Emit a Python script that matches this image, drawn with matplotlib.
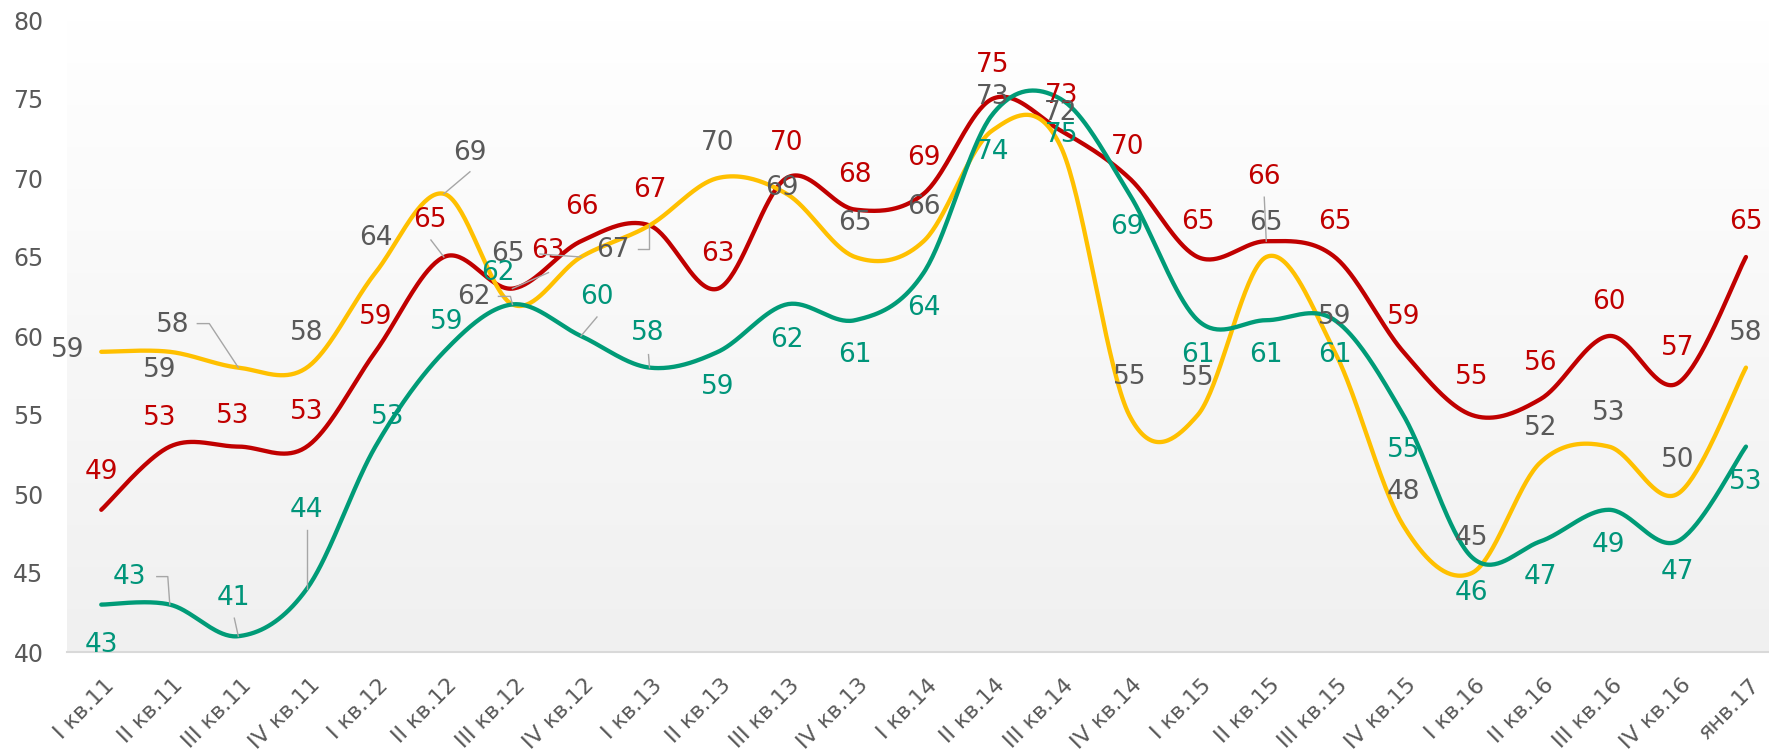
import numpy as np
import matplotlib
matplotlib.use('Agg')
import matplotlib.pyplot as plt
from matplotlib.lines import Line2D
from matplotlib.transforms import IdentityTransform

plt.rcParams['font.family'] = ['DejaVu Sans']

categories = ['I кв.11', 'II кв.11', 'III кв.11', 'IV кв.11',
              'I кв.12', 'II кв.12', 'III кв.12', 'IV кв.12',
              'I кв.13', 'II кв.13', 'III кв.13', 'IV кв.13',
              'I кв.14', 'II кв.14', 'III кв.14', 'IV кв.14',
              'I кв.15', 'II кв.15', 'III кв.15', 'IV кв.15',
              'I кв.16', 'II кв.16', 'III кв.16', 'IV кв.16', 'янв.17']
red_values = [49, 53, 53, 53, 59, 65, 63, 66, 67, 63, 70, 68, 69, 75, 73, 70, 65, 66, 65, 59, 55, 56, 60, 57, 65]
yellow_values = [59, 59, 58, 58, 64, 69, 62, 65, 67, 70, 69, 65, 66, 73, 72, 55, 55, 65, 59, 48, 45, 52, 53, 50, 58]
green_values = [43, 43, 41, 44, 53, 59, 62, 60, 58, 59, 62, 61, 64, 74, 75, 69, 61, 61, 61, 55, 46, 47, 49, 47, 53]

# label placement (pixel offsets from the point, y pointing down)
UP = (0, -35)
DN = (0, 35)
red_offsets = [(0, -38), (-10, -29), (-6, -31), UP, UP, (-14, -37), (35, -38), (1, -34), UP, UP,
               UP, UP, (0, -36), (0, -34), (1, -35), (-2, -31), UP, (-2, -64), UP, UP,
               (0, -38), (0, -36), (0, -34), UP, UP]
yellow_offsets = [(-34, -2), (-10, 18), (-66, -43), UP, UP, (26, -41), (-39, -7), (-73, -3), (-37, 25), UP,
                  (-5, -6), (0, -34), (0, -34), (0, -34), (0, -33), (0, -38), (0, -37), (0, -34), UP, (0, -34),
                  UP, (0, -34), (0, -34), (0, -34), UP]
green_offsets = [(0, 40), (-40, -28), (-5, -38), (0, -79), (12, -30), (3, -30), (-15, -31), (16, -39), (-2, -35), DN,
                 (0, 36), DN, DN, (0, 37), (1, 36), (-2, 33), DN, DN, DN, DN,
                 (0, 36), (0, 36), DN, (0, 31), DN]
red_leaders = {5: [(-13, -17), (0, 0)], 6: [(0, 0), (36, -16)], 17: [(-2, -44), (0, 0)]}
yellow_leaders = {2: [(-41, -44), (-29, -44), (0, 0)], 5: [(26, -22), (0, 0)],
                  6: [(-14, -8), (-2, -8), (0, 0)], 7: [(-41, -3), (0, 0)],
                  8: [(-11, 24), (0, 24), (0, 0)]}
green_leaders = {1: [(-13, -28), (-2, -28), (0, 0)], 2: [(-4, -18), (0, 0)], 3: [(0, -59), (0, 0)],
                 7: [(16, -19), (0, 0)], 8: [(-1, -13), (0, 0)]}


def smooth(xs, ys, n=40):
    pts = np.column_stack([xs, ys]).astype(float)
    ext = np.vstack([pts[0], pts, pts[-1]])
    t = np.linspace(0, 1, n)[:, None]
    out = []
    for i in range(len(pts) - 1):
        p0, p1, p2, p3 = ext[i], ext[i + 1], ext[i + 2], ext[i + 3]
        c1 = p1 + (p2 - p0) / 6
        c2 = p2 - (p3 - p1) / 6
        seg = (1 - t) ** 3 * p1 + 3 * (1 - t) ** 2 * t * c1 + 3 * (1 - t) * t ** 2 * c2 + t ** 3 * p2
        out.append(seg if i == 0 else seg[1:])
    out = np.vstack(out)
    return out[:, 0], out[:, 1]


fig = plt.figure(figsize=(17.69, 7.54), dpi=100)
ax = fig.add_axes([67 / 1769, 102 / 754, 1 - 67 / 1769, 632 / 754])
x = np.arange(len(categories))
ax.set_xlim(-0.5, (1769 - 101) / 68.54)
ax.set_ylim(40, 80)

# gradient plot area
grad = np.linspace(0, 1, 256)[:, None]
ax.imshow(grad, extent=[0, 1, 0, 1], transform=ax.transAxes, aspect='auto',
          cmap=matplotlib.colors.LinearSegmentedColormap.from_list('bg', ['#ffffff', '#f0f0f0']),
          zorder=0)

series = [
    (red_values, '#c00000', '#c00000', red_offsets, red_leaders),
    (yellow_values, '#ffc000', '#595959', yellow_offsets, yellow_leaders),
    (green_values, '#009b77', '#00957a', green_offsets, green_leaders),
]

for vals, lc, tc, offs, leads in series:
    sx, sy = smooth(x, vals)
    ax.plot(sx, sy, color=lc, lw=3.1, solid_capstyle='round', zorder=3)

fig.canvas.draw()
for vals, lc, tc, offs, leads in series:
    for i, v in enumerate(vals):
        dx, dy = offs[i]
        ax.annotate(str(v), (i, v), xytext=(dx, -dy), textcoords='offset pixels',
                    ha='center', va='center', fontsize=19, color=tc, zorder=5)
    for i, pts in leads.items():
        px, py = ax.transData.transform((i, vals[i]))
        lx = [px + p[0] for p in pts]
        ly = [py - p[1] for p in pts]
        fig.add_artist(Line2D(lx, ly, transform=IdentityTransform(), color='#a6a6a6', lw=1.0, zorder=2))

for s in ['top', 'right', 'left']:
    ax.spines[s].set_visible(False)
ax.spines['bottom'].set_color('#d9d9d9')
ax.spines['bottom'].set_linewidth(1.5)
ax.spines['bottom'].set_zorder(4)

ax.set_yticks([40, 45, 50, 55, 60, 65, 70, 75, 80])
ax.tick_params(axis='y', length=0, pad=17, labelsize=17, labelcolor='#595959')
ax.set_xticks(x)
ax.set_xticklabels([])
ax.tick_params(axis='x', length=0)
for i, cat in enumerate(categories):
    ax.annotate(cat, (i, 40), xytext=(10, -30), textcoords='offset pixels',
                rotation=45, rotation_mode='anchor', ha='right', va='center',
                fontsize=16, color='#595959', annotation_clip=False)

fig.savefig('out.png', dpi=100)
